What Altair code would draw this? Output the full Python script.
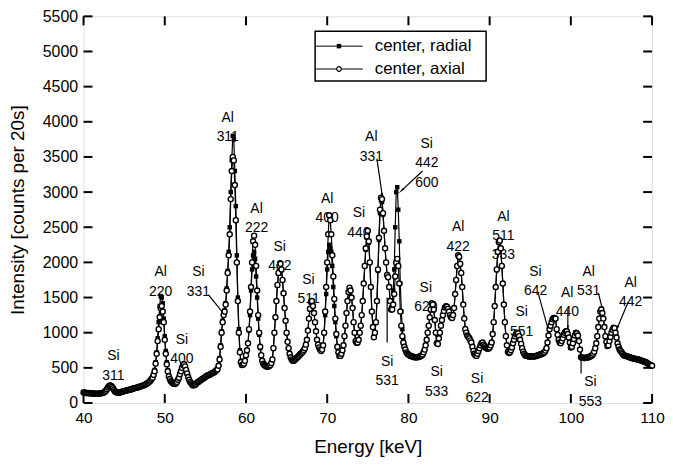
import math
import altair as alt
import pandas as pd

# ---------------- data ----------------
E_START = 40.0
E_STEP = 0.125   # 8 readings per keV

axial = [
    150, 148, 145, 143, 140, 142, 140, 138,      # 40
    135, 137, 135, 132, 130, 132, 130, 132,      # 41
    135, 137, 140, 145, 150, 160, 175, 195,      # 42
    220, 240, 250, 245, 230, 210, 185, 165,      # 43
    155, 148, 145, 147, 150, 155, 160, 165,      # 44
    170, 172, 175, 180, 185, 188, 190, 195,      # 45
    200, 205, 210, 212, 215, 220, 225, 230,      # 46
    235, 240, 245, 250, 255, 262, 270, 280,      # 47
    290, 305, 320, 340, 360, 400, 450, 560,      # 48
    700, 880, 1050, 1220, 1350, 1380, 1300, 1150,  # 49
    900, 700, 550, 450, 380, 340, 310, 295,      # 50
    280, 272, 270, 282, 300, 330, 360, 410,      # 51
    450, 500, 540, 550, 520, 470, 420, 370,      # 52
    330, 300, 280, 262, 250, 255, 260, 275,      # 53
    290, 300, 310, 320, 330, 340, 350, 360,      # 54
    370, 380, 390, 395, 400, 410, 420, 425,      # 55
    430, 440, 450, 465, 480, 530, 620, 800,      # 56
    1000, 1150, 1250, 1300, 1400, 1600, 1850, 2100,  # 57
    2400, 2900, 3300, 3500, 3450, 3100, 2600, 2000,  # 58
    1450, 1000, 720, 580, 540, 545, 560, 600,    # 59
    680, 750, 850, 1050, 1300, 1650, 2000, 2300,  # 60
    2380, 2250, 1950, 1600, 1250, 1000, 800, 680,  # 61
    600, 560, 540, 530, 520, 518, 520, 525,      # 62
    540, 570, 620, 780, 1000, 1220, 1450, 1680,  # 63
    1850, 1950, 1980, 1900, 1750, 1560, 1350, 1170,  # 64
    1000, 870, 780, 700, 650, 620, 600, 600,     # 65
    610, 625, 640, 655, 670, 685, 700, 715,      # 66
    730, 750, 780, 830, 900, 1030, 1200, 1340,   # 67
    1440, 1450, 1380, 1280, 1150, 1020, 900, 830,  # 68
    790, 760, 740, 760, 820, 1000, 1300, 1650,   # 69
    2000, 2400, 2670, 2600, 2400, 2100, 1800, 1480,  # 70
    1200, 980, 800, 720, 670, 670, 700, 750,     # 71
    820, 950, 1100, 1280, 1450, 1580, 1640, 1600,  # 72
    1500, 1350, 1150, 1000, 880, 855, 860, 900,  # 73
    1000, 1100, 1250, 1450, 1700, 1950, 2200, 2370,  # 74
    2450, 2300, 2000, 1650, 1300, 1080, 935, 1000,  # 75
    1150, 1450, 1900, 2350, 2750, 2920, 2900, 2700,  # 76
    2450, 2200, 2000, 1820, 1790, 1650, 1450, 1330,  # 77
    1330, 1400, 1550, 1800, 2000, 2050, 1950, 1700,  # 78
    1300, 1100, 950, 860, 800, 760, 720, 700,    # 79
    690, 680, 670, 665, 660, 655, 650, 650,      # 80
    650, 652, 655, 660, 665, 675, 690, 720,      # 81
    760, 820, 900, 1000, 1100, 1220, 1330, 1420,  # 82
    1400, 1330, 1180, 1000, 850, 840, 920, 1000,  # 83
    1100, 1180, 1250, 1310, 1360, 1375, 1370, 1340,  # 84
    1300, 1250, 1220, 1210, 1250, 1350, 1550, 1750,  # 85
    1950, 2100, 2080, 1980, 1850, 1650, 1400, 1200,  # 86
    1050, 1000, 960, 940, 920, 890, 860, 800,    # 87
    740, 700, 680, 670, 700, 740, 780, 820,      # 88
    850, 860, 830, 810, 790, 780, 770, 775,      # 89
    790, 820, 860, 980, 1150, 1380, 1650, 1900,  # 90
    2150, 2290, 2310, 2200, 1950, 1700, 1400, 1150,  # 91
    950, 820, 730, 710, 720, 750, 790, 850,      # 92
    900, 950, 980, 1000, 990, 950, 900, 840,     # 93
    780, 730, 700, 680, 670, 668, 665, 662,      # 94
    660, 662, 665, 663, 660, 665, 670, 675,      # 95
    680, 685, 690, 695, 700, 710, 720, 745,      # 96
    780, 860, 960, 1050, 1100, 1150, 1190, 1210,  # 97
    1210, 1200, 1050, 970, 900, 860, 850, 880,   # 98
    920, 970, 1000, 1020, 1020, 980, 930, 860,   # 99
    790, 800, 850, 910, 960, 1000, 990, 960,     # 100
    880, 760, 650, 645, 645, 640, 640, 642,      # 101
    645, 650, 655, 660, 670, 680, 700, 730,      # 102
    780, 850, 950, 1080, 1200, 1300, 1330, 1280,  # 103
    1200, 1080, 950, 870, 810, 820, 880, 940,    # 104
    1000, 1040, 1070, 1065, 1000, 930, 850, 800,  # 105
    760, 740, 720, 700, 680, 675, 670, 665,      # 106
    660, 655, 650, 645, 640, 635, 630, 628,      # 107
    625, 622, 620, 615, 610, 605, 600, 595,      # 108
    590, 585, 580, 570, 560, 550, 540, 535,      # 109
    530,                                         # 110
]

radial = [
    155, 150, 146, 145, 142, 143, 141, 140,      # 40
    137, 138, 136, 134, 132, 133, 131, 134,      # 41
    137, 139, 142, 148, 153, 163, 178, 198,      # 42
    225, 243, 255, 248, 235, 213, 188, 168,      # 43
    158, 150, 148, 150, 152, 158, 162, 168,      # 44
    172, 175, 178, 182, 188, 190, 193, 198,      # 45
    203, 208, 212, 215, 218, 223, 228, 233,      # 46
    238, 243, 248, 253, 258, 265, 273, 283,      # 47
    295, 310, 325, 345, 370, 410, 470, 580,      # 48
    720, 920, 1150, 1380, 1520, 1500, 1420, 1200,  # 49
    950, 740, 580, 470, 390, 350, 320, 300,      # 50
    285, 276, 274, 285, 305, 333, 365, 415,      # 51
    455, 505, 545, 555, 525, 475, 425, 375,      # 52
    335, 305, 285, 266, 255, 258, 264, 278,      # 53
    293, 303, 313, 323, 333, 343, 353, 363,      # 54
    373, 383, 393, 398, 403, 413, 423, 428,      # 55
    433, 443, 455, 470, 490, 540, 640, 820,      # 56
    1020, 1170, 1270, 1320, 1420, 1630, 1880, 2150,  # 57
    2500, 3000, 3450, 3800, 3750, 3300, 2800, 2100,  # 58
    1500, 1050, 750, 600, 550, 550, 560, 600,    # 59
    680, 750, 850, 1030, 1250, 1600, 1900, 2100,  # 60
    2150, 2050, 1800, 1500, 1200, 970, 780, 670,  # 61
    600, 562, 545, 535, 525, 522, 525, 530,      # 62
    545, 575, 625, 785, 1000, 1220, 1450, 1670,  # 63
    1840, 1940, 1970, 1890, 1750, 1560, 1350, 1170,  # 64
    1000, 870, 780, 705, 655, 625, 605, 605,     # 65
    615, 630, 645, 660, 675, 690, 705, 720,      # 66
    735, 755, 785, 835, 905, 1030, 1200, 1330,   # 67
    1430, 1440, 1380, 1280, 1150, 1020, 900, 835,  # 68
    795, 765, 745, 765, 820, 990, 1250, 1550,    # 69
    1900, 2150, 2250, 2200, 2150, 1950, 1650, 1380,  # 70
    1150, 950, 790, 715, 675, 675, 705, 755,     # 71
    825, 955, 1100, 1280, 1450, 1570, 1620, 1590,  # 72
    1500, 1350, 1150, 1000, 885, 860, 865, 905,  # 73
    1000, 1100, 1250, 1450, 1700, 1950, 2180, 2350,  # 74
    2430, 2280, 2000, 1650, 1300, 1080, 945, 1005,  # 75
    1150, 1440, 1880, 2320, 2700, 2880, 2860, 2680,  # 76
    2450, 2200, 2000, 1820, 1790, 1650, 1460, 1360,  # 77
    1400, 1600, 1900, 2500, 3000, 3070, 2750, 2300,  # 78
    1700, 1300, 1050, 900, 820, 770, 730, 705,   # 79
    695, 685, 675, 670, 665, 660, 655, 655,      # 80
    655, 657, 660, 665, 670, 680, 695, 725,      # 81
    765, 825, 905, 1000, 1100, 1215, 1320, 1410,  # 82
    1390, 1320, 1180, 1000, 855, 850, 930, 1010,  # 83
    1110, 1190, 1260, 1315, 1360, 1375, 1370, 1345,  # 84
    1310, 1260, 1230, 1220, 1260, 1355, 1550, 1740,  # 85
    1940, 2080, 2070, 1970, 1850, 1650, 1400, 1210,  # 86
    1060, 1010, 970, 950, 930, 900, 870, 810,    # 87
    750, 710, 690, 680, 705, 745, 785, 825,      # 88
    855, 865, 835, 815, 795, 785, 775, 780,      # 89
    795, 825, 865, 985, 1150, 1375, 1640, 1890,  # 90
    2140, 2280, 2300, 2190, 1950, 1700, 1400, 1155,  # 91
    955, 825, 735, 715, 725, 755, 795, 855,      # 92
    905, 955, 985, 1005, 995, 955, 905, 845,     # 93
    785, 735, 705, 685, 675, 672, 670, 667,      # 94
    665, 667, 670, 668, 665, 670, 675, 680,      # 95
    685, 690, 695, 700, 705, 715, 725, 750,      # 96
    785, 865, 965, 1050, 1100, 1150, 1190, 1210,  # 97
    1210, 1200, 1050, 975, 905, 865, 855, 885,   # 98
    925, 975, 1005, 1020, 1020, 985, 935, 865,   # 99
    795, 805, 855, 915, 965, 1000, 995, 965,     # 100
    885, 765, 655, 650, 650, 645, 645, 647,      # 101
    650, 655, 660, 665, 675, 685, 705, 735,      # 102
    785, 855, 955, 1085, 1210, 1310, 1340, 1290,  # 103
    1210, 1085, 955, 875, 815, 825, 885, 945,    # 104
    1005, 1045, 1070, 1065, 1000, 935, 855, 805,  # 105
    765, 745, 725, 705, 685, 680, 675, 670,      # 106
    665, 660, 655, 650, 645, 640, 635, 633,      # 107
    630, 627, 625, 620, 615, 610, 605, 600,      # 108
    595, 590, 585, 575, 565, 555, 545, 540,      # 109
    535,                                         # 110
]

series_names = ["center, radial", "center, axial"]

x_ticks = [40, 50, 60, 70, 80, 90, 100, 110]
y_ticks = [0, 500, 1000, 1500, 2000, 2500, 3000, 3500, 4000, 4500, 5000, 5500]

# peak labels: text, energy (keV), intensity of block centre
label_text = ["Si\n311", "Al\n220", "Si\n400", "Si\n331", "Al\n311", "Al\n222",
              "Si\n422", "Si\n511", "Al\n400", "Si\n440", "Al\n331", "Si\n442\n600",
              "Si\n531", "Si\n620", "Si\n533", "Al\n422", "Si\n622", "Al\n511\n333",
              "Si\n551", "Si\n642", "Al\n440", "Al\n531", "Al\n442", "Si\n553"]
label_e = [43.67, 49.5, 52.1, 54.15, 57.75, 61.3,
           64.16, 67.7, 70.0, 73.9, 75.43, 82.26,
           77.38, 82.14, 83.48, 86.13, 88.45, 91.7,
           93.94, 95.65, 99.56, 102.19, 107.37, 102.4]
label_v = [665, 1860, 900, 1861, 4057, 2762,
           2220, 1755, 2900, 2700, 3779, 3687,
           584, 1636, 434, 2497, 340, 2650,
           1291, 1865, 1570, 1865, 1712, 292]

# pointer lines: start (e1, v1) -> end (e2, v2), arrowhead at end if flagged
ptr_e1 = [55.36, 76.12, 81.74, 77.38, 87.84, 95.97, 99.63, 103.38, 107.04, 101.26]
ptr_v1 = [1542, 3475, 3300, 860, 670, 1566, 1330, 1566, 1433, 420]
ptr_e2 = [57.18, 76.77, 79.21, 77.38, 87.84, 97.27, 99.63, 103.9, 105.73, 101.26]
ptr_v2 = [1283, 2956, 3027, 1500, 810, 1023, 1071, 1330, 1071, 800]
ptr_head = [True, True, True, False, False, True, True, True, True, False]

# ---------------- layout ----------------
W, H = 572, 389
X_DOM = [40, 110]
Y_DOM = [0, 5500]
FONT = "Liberation Sans"
PX_PER_E = W / (X_DOM[1] - X_DOM[0])
PX_PER_V = H / (Y_DOM[1] - Y_DOM[0])

energy = [E_START + i * E_STEP for i in range(len(axial))]
df_ax = pd.DataFrame({"E": energy, "I": axial})
df_rad = pd.DataFrame({"E": energy[:len(radial)], "I": radial})

x_axis = alt.Axis(values=x_ticks, ticks=False, domain=False, grid=False,
                  labelFlush=False, format="d",
                  labelFont=FONT, labelFontSize=15.5, labelPadding=8, labelColor="black",
                  title="Energy [keV]", titleFont=FONT, titleFontSize=19,
                  titleFontWeight="normal", titleColor="black",
                  titleX=W / 2, titleY=44, titleAlign="center", titleBaseline="middle")
y_axis = alt.Axis(values=y_ticks, ticks=False, domain=False, grid=False,
                  labelFlush=False, format="d",
                  labelFont=FONT, labelFontSize=16, labelPadding=6, labelColor="black",
                  title="Intensity [counts per 20s]", titleFont=FONT, titleFontSize=19,
                  titleFontWeight="normal", titleColor="black", titleAngle=270,
                  titleX=-66, titleY=H / 2, titleAlign="center", titleBaseline="middle")


def xenc(field="E"):
    return alt.X(f"{field}:Q", scale=alt.Scale(domain=X_DOM, nice=False, zero=False),
                 axis=x_axis)


def yenc(field="I"):
    return alt.Y(f"{field}:Q", scale=alt.Scale(domain=Y_DOM, nice=False, zero=False),
                 axis=y_axis)


# data series
rad_line = alt.Chart(df_rad).mark_line(color="black", strokeWidth=1.2).encode(
    x=xenc(), y=yenc())
rad_pts = alt.Chart(df_rad).mark_point(shape="square", filled=True, color="black",
                                       size=20, opacity=1).encode(x=xenc(), y=yenc())
ax_line = alt.Chart(df_ax).mark_line(color="black", strokeWidth=1.2).encode(
    x=xenc(), y=yenc())
ax_pts = alt.Chart(df_ax).mark_point(shape="circle", filled=True, fill="white",
                                     stroke="black", strokeWidth=1.4, size=26,
                                     opacity=1).encode(x=xenc(), y=yenc())

# inward ticks on all four sides
TL = 9
dfx = pd.DataFrame({"E": x_ticks})
dfy = pd.DataFrame({"I": y_ticks})
tick_style = dict(color="black", strokeWidth=2)
t_bottom = alt.Chart(dfx).mark_rule(**tick_style).encode(
    x=xenc(), y=alt.value(H - TL), y2=alt.value(H))
t_top = alt.Chart(dfx).mark_rule(**tick_style).encode(
    x=xenc(), y=alt.value(0), y2=alt.value(TL))
t_left = alt.Chart(dfy).mark_rule(**tick_style).encode(
    y=yenc(), x=alt.value(0), x2=alt.value(TL))
t_right = alt.Chart(dfy).mark_rule(**tick_style).encode(
    y=yenc(), x=alt.value(W - TL), x2=alt.value(W))

# annotations
df_lab = pd.DataFrame({"E": label_e, "I": label_v, "t": label_text})
labels = alt.Chart(df_lab).mark_text(font=FONT, fontSize=14, color="black",
                                     lineBreak="\n", lineHeight=19.5,
                                     align="center", baseline="middle").encode(
    x=xenc(), y=yenc(), text="t:N")

df_ptr = pd.DataFrame({"E": ptr_e1, "I": ptr_v1, "E2": ptr_e2, "I2": ptr_v2})
pointers = alt.Chart(df_ptr).mark_rule(color="black", strokeWidth=1.2).encode(
    x=xenc(), y=yenc(), x2="E2:Q", y2="I2:Q")

heads = []
for e1, v1, e2, v2, h in zip(ptr_e1, ptr_v1, ptr_e2, ptr_v2, ptr_head):
    if not h:
        continue
    dx = (e2 - e1) * PX_PER_E
    dy = -(v2 - v1) * PX_PER_V
    ang = math.degrees(math.atan2(dx, -dy)) % 360
    heads.append(
        alt.Chart(pd.DataFrame({"E": [e2], "I": [v2]})).mark_point(
            shape="wedge", filled=True, color="black", size=70, angle=ang,
            opacity=1).encode(x=xenc(), y=yenc()))

# legend (drawn inside the plot, top centre)
LX0, LX1, LY0, LY1 = 233, 405, 15, 65
leg_layers = [
    alt.Chart(df_lab.head(1)).mark_rect(fill="white", stroke="black", strokeWidth=1.5).encode(
        x=alt.value(LX0), x2=alt.value(LX1), y=alt.value(LY0), y2=alt.value(LY1))
]
row_y = [LY0 + 15, LY0 + 38]
for i, name in enumerate(series_names):
    yy = row_y[i]
    d1 = pd.DataFrame({"t": [name]})
    leg_layers.append(alt.Chart(d1).mark_rule(color="black", strokeWidth=1).encode(
        x=alt.value(LX0 + 1), x2=alt.value(LX0 + 48), y=alt.value(yy)))
    if i == 0:
        sym = alt.Chart(d1).mark_point(shape="square", filled=True, color="black",
                                       size=20, opacity=1)
    else:
        sym = alt.Chart(d1).mark_point(shape="circle", filled=True, fill="white",
                                       stroke="black", strokeWidth=1.2, size=22, opacity=1)
    leg_layers.append(sym.encode(x=alt.value(LX0 + 24), y=alt.value(yy)))
    leg_layers.append(alt.Chart(d1).mark_text(font=FONT, fontSize=17, color="black",
                                              align="left", baseline="middle").encode(
        x=alt.value(LX0 + 60), y=alt.value(yy), text="t:N"))

chart = alt.layer(
    rad_line, labels, pointers, *heads, rad_pts, ax_line, ax_pts,
    t_bottom, t_top, t_left, t_right, *leg_layers
).properties(
    width=W, height=H,
    padding={"left": 76, "top": 7, "right": 13, "bottom": 60},
    autosize=alt.AutoSizeParams(type="none"),
).configure_view(
    stroke="black", strokeWidth=2
).configure(background="white")

chart.save("out.html", embed_options={"renderer": "svg", "actions": False})
